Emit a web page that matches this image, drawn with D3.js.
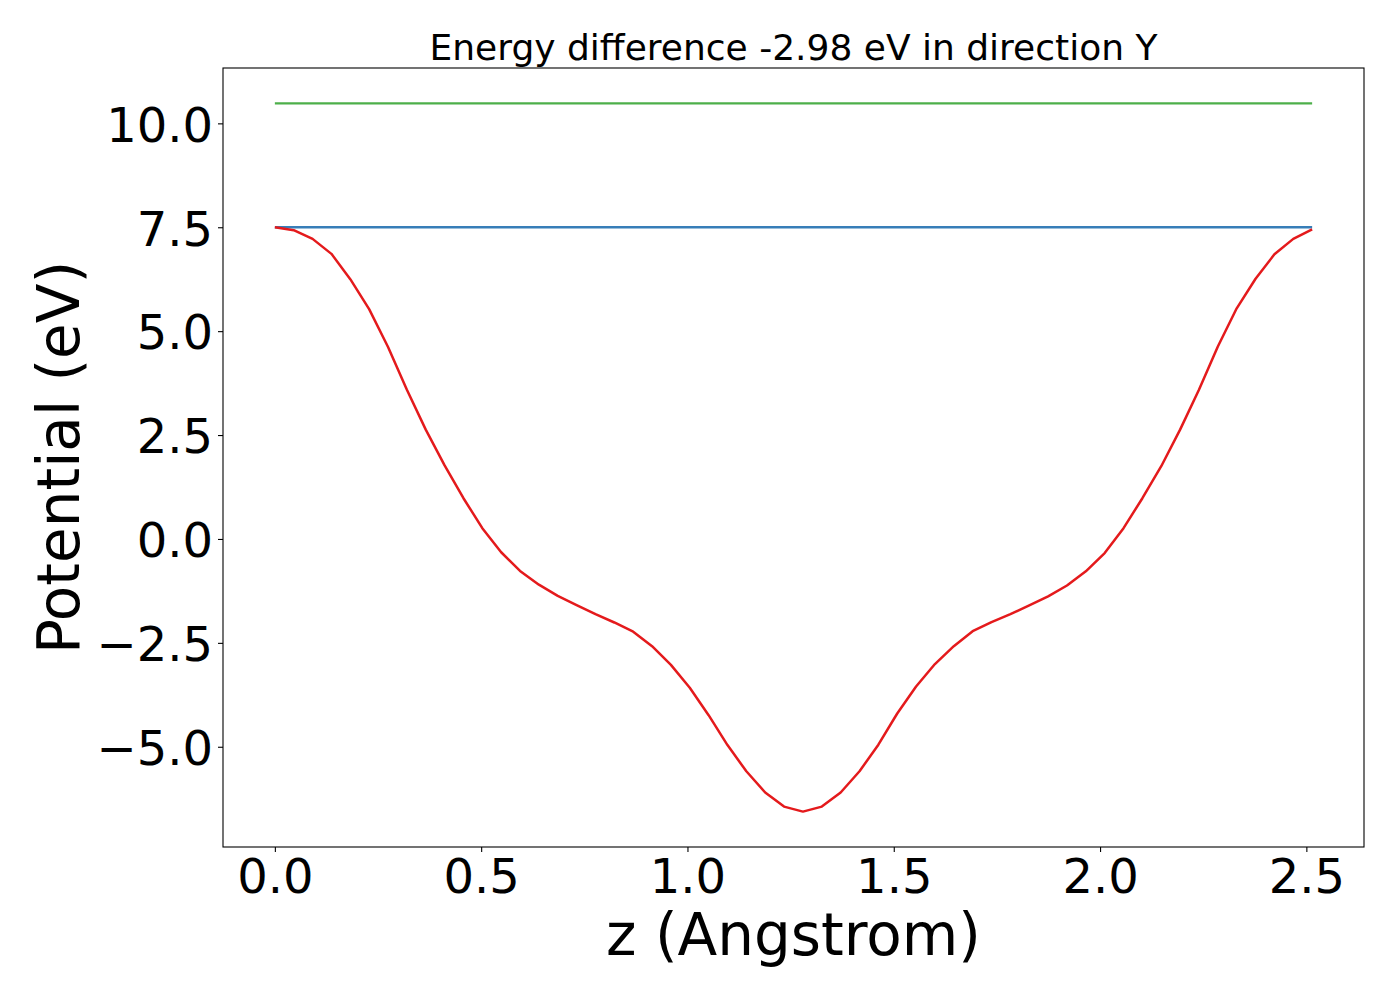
<!DOCTYPE html>
<html>
<head>
<meta charset="utf-8">
<script src="https://cdn.jsdelivr.net/npm/d3@7"></script>
<style>
  body { margin: 0; background: #fff; }
  text { font-family: "DejaVu Sans", sans-serif; fill: #000; }
</style>
</head>
<body>
<div id="chart"></div>
<script>
// z grid (Angstrom) and potential along it (eV)
const zValues = [
  0.0000, 0.0457, 0.0914, 0.1371, 0.1828, 0.2285, 0.2743, 0.3200, 0.3657, 0.4114,
  0.4571, 0.5028, 0.5485, 0.5942, 0.6399, 0.6856, 0.7313, 0.7771, 0.8228, 0.8685,
  0.9142, 0.9599, 1.0056, 1.0513, 1.0970, 1.1427, 1.1884, 1.2341, 1.2799, 1.3256,
  1.3713, 1.4170, 1.4627, 1.5084, 1.5541, 1.5998, 1.6455, 1.6912, 1.7369, 1.7827,
  1.8284, 1.8741, 1.9198, 1.9655, 2.0112, 2.0569, 2.1026, 2.1483, 2.1940, 2.2397,
  2.2855, 2.3312, 2.3769, 2.4226, 2.4683, 2.5140
]
const potential = [
  7.50, 7.43, 7.22, 6.86, 6.25, 5.53, 4.62, 3.59, 2.63, 1.77,
  0.98, 0.26, -0.32, -0.77, -1.10, -1.37, -1.59, -1.81, -2.01, -2.23,
  -2.58, -3.03, -3.58, -4.24, -4.96, -5.59, -6.10, -6.44, -6.56, -6.44,
  -6.10, -5.59, -4.95, -4.20, -3.55, -3.01, -2.58, -2.22, -2.00, -1.81,
  -1.60, -1.38, -1.12, -0.78, -0.34, 0.26, 0.98, 1.75, 2.63, 3.59,
  4.63, 5.55, 6.26, 6.85, 7.22, 7.45
]
const levelBlue = 7.5
const levelGreen = 10.48

const xTicks = [0, 0.5, 1.0, 1.5, 2.0, 2.5]
const yTicks = [-5.0, -2.5, 0.0, 2.5, 5.0, 7.5, 10.0]

const title = 'Energy difference -2.98 eV in direction Y'
const xLabel = 'z (Angstrom)'
const yLabel = 'Potential (eV)'

const width = 1400
const height = 1000
const margin = { top: 68, right: 36, bottom: 153, left: 223 }
const iw = width - margin.left - margin.right
const ih = height - margin.top - margin.bottom

// matplotlib style 5% padding on the data range
const pad = (lo, hi) => { const s = hi - lo; return [lo - 0.05 * s, hi + 0.05 * s] }
const yAll = potential.concat([levelBlue, levelGreen])

const x = d3.scaleLinear().domain(pad(d3.min(zValues), d3.max(zValues))).range([0, iw])
const y = d3.scaleLinear().domain(pad(d3.min(yAll), d3.max(yAll))).range([ih, 0])

const svg = d3.select('#chart').append('svg').attr('width', width).attr('height', height)
const g = svg.append('g').attr('transform', `translate(${margin.left},${margin.top})`)

const fmt = d3.format('.1f')

const xAxis = g.append('g')
  .attr('transform', `translate(0,${ih})`)
  .call(d3.axisBottom(x).tickValues(xTicks).tickFormat(fmt).tickSize(5).tickSizeOuter(0))
xAxis.select('.domain').remove()
xAxis.selectAll('line').attr('stroke', '#000').attr('stroke-width', 1.1)
xAxis.selectAll('text')
  .attr('y', 46).attr('dy', null)
  .style('font-size', '48px').style('font-family', 'DejaVu Sans')

const yAxis = g.append('g')
  .call(d3.axisLeft(y).tickValues(yTicks).tickFormat(fmt).tickSize(5).tickSizeOuter(0))
yAxis.select('.domain').remove()
yAxis.selectAll('line').attr('stroke', '#000').attr('stroke-width', 1.1)
yAxis.selectAll('text')
  .attr('x', -10).attr('dy', '0.37em')
  .style('font-size', '48px').style('font-family', 'DejaVu Sans')

const line = d3.line().x((d, i) => x(zValues[i])).y(d => y(d))
const z0 = zValues[0], z1 = zValues[zValues.length - 1]

g.append('path')
  .datum([levelBlue, levelBlue])
  .attr('fill', 'none').attr('stroke', '#377eb8').attr('stroke-width', 2.3)
  .attr('d', d3.line().x((d, i) => x(i ? z1 : z0)).y(d => y(d)))

g.append('path')
  .datum([levelGreen, levelGreen])
  .attr('fill', 'none').attr('stroke', '#4daf4a').attr('stroke-width', 2.3)
  .attr('d', d3.line().x((d, i) => x(i ? z1 : z0)).y(d => y(d)))

g.append('path')
  .datum(potential)
  .attr('fill', 'none').attr('stroke', '#e41a1c').attr('stroke-width', 2.5)
  .attr('stroke-linejoin', 'round')
  .attr('d', line)

// frame
g.append('rect')
  .attr('width', iw).attr('height', ih)
  .attr('fill', 'none').attr('stroke', '#000').attr('stroke-width', 1.1)

svg.append('text')
  .attr('x', margin.left + iw / 2).attr('y', 60)
  .attr('text-anchor', 'middle')
  .style('font-size', '36px')
  .text(title)

svg.append('text')
  .attr('x', margin.left + iw / 2).attr('y', 955)
  .attr('text-anchor', 'middle')
  .style('font-size', '58px')
  .text(xLabel)

svg.append('text')
  .attr('transform', `translate(79,${margin.top + ih / 2}) rotate(-90)`)
  .attr('text-anchor', 'middle')
  .style('font-size', '58px')
  .text(yLabel)
</script>
</body>
</html>
